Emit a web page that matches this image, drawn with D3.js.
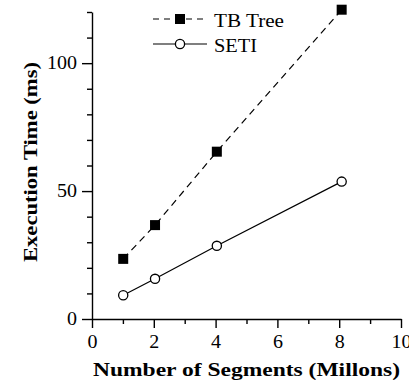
<!DOCTYPE html>
<html>
<head>
<meta charset="utf-8">
<script src="https://cdn.jsdelivr.net/npm/d3@7"></script>
<style>
  html, body { margin: 0; padding: 0; background: #fff; }
  svg { display: block; }
  text { font-family: "Liberation Serif", "Times New Roman", serif; fill: #000; }
</style>
</head>
<body>
<svg id="chart" width="409" height="387"></svg>
<script>
// Segment counts (millions) and execution times (ms)
const segments = [1.01, 2.04, 4.04, 8.08];
const tbTree = [23.5, 36.7, 65.4, 120.9];
const seti = [9.3, 15.7, 28.6, 53.7];
const seriesNames = ["TB Tree", "SETI"];
const xMajorTicks = [0, 2, 4, 6, 8, 10];
const xMinorTicks = [1, 3, 5, 7, 9];
const yMajorTicks = [0, 50, 100];
const yMinorTicks = [10, 20, 30, 40, 60, 70, 80, 90, 110, 120];

const svg = d3.select("#chart");
const plotLeft = 92, plotRight = 401, plotTop = 12, plotBottom = 319;

const x = d3.scaleLinear().domain([0, 10]).range([plotLeft, plotRight]);
const y = d3.scaleLinear().domain([0, 120]).range([plotBottom, plotTop]);

// The figure's typeface is a wide serif; stretch glyphs to that width
function widen(sel, perChar) {
  sel.attr("textLength", function () { return this.textContent.length * perChar; })
     .attr("lengthAdjust", "spacingAndGlyphs");
}

// Y axis: major ticks with labels, minor ticks without
svg.append("g").attr("transform", `translate(${plotLeft},0)`)
  .call(d3.axisLeft(y).tickValues(yMajorTicks).tickSize(10).tickSizeOuter(0).tickPadding(5).tickFormat(d3.format("d")));
svg.append("g").attr("transform", `translate(${plotLeft},0)`)
  .call(d3.axisLeft(y).tickValues(yMinorTicks).tickSize(5).tickSizeOuter(0).tickFormat(""))
  .select(".domain").remove();

// X axis
svg.append("g").attr("transform", `translate(0,${plotBottom})`)
  .call(d3.axisBottom(x).tickValues(xMajorTicks).tickSize(9).tickSizeOuter(0).tickPadding(7).tickFormat(d3.format("d")));
svg.append("g").attr("transform", `translate(0,${plotBottom})`)
  .call(d3.axisBottom(x).tickValues(xMinorTicks).tickSize(5).tickSizeOuter(0).tickFormat(""))
  .select(".domain").remove();

svg.selectAll(".domain, .tick line").attr("stroke", "#000").attr("stroke-width", 1.4);
svg.selectAll(".tick text")
  .style("font-family", '"Liberation Serif", serif')
  .style("font-size", "18px")
  .attr("fill", "#000")
  .call(widen, 10);

// Axis titles
svg.append("text")
  .attr("x", (plotLeft + plotRight) / 2).attr("y", 376)
  .attr("text-anchor", "middle")
  .attr("textLength", 307).attr("lengthAdjust", "spacingAndGlyphs")
  .style("font-size", "19px").style("font-weight", "bold")
  .text("Number of Segments (Millons)");

svg.append("text")
  .attr("transform", `translate(37,162) rotate(-90)`)
  .attr("text-anchor", "middle")
  .attr("textLength", 200).attr("lengthAdjust", "spacingAndGlyphs")
  .style("font-size", "19px").style("font-weight", "bold")
  .text("Execution Time (ms)");

// Lines
const line = d3.line().x((d, i) => x(segments[i])).y(d => y(d));

svg.append("path").datum(tbTree)
  .attr("d", line).attr("fill", "none").attr("stroke", "#000")
  .attr("stroke-width", 1.2).attr("stroke-dasharray", "7,5");
svg.append("path").datum(seti)
  .attr("d", line).attr("fill", "none").attr("stroke", "#000")
  .attr("stroke-width", 1.2);

// Markers
const sq = 10;
svg.append("g").selectAll("rect").data(tbTree).join("rect")
  .attr("x", (d, i) => x(segments[i]) - sq / 2)
  .attr("y", d => y(d) - sq / 2)
  .attr("width", sq).attr("height", sq).attr("fill", "#000");

svg.append("g").selectAll("circle").data(seti).join("circle")
  .attr("cx", (d, i) => x(segments[i]))
  .attr("cy", d => y(d))
  .attr("r", 4.6).attr("fill", "#fff").attr("stroke", "#000").attr("stroke-width", 1.3);

// Legend
const legend = svg.append("g");
const lx0 = 153, lx1 = 207, lmid = 180;
const rows = [19, 44];
const legendWidths = [70, 43];

legend.append("line").attr("x1", lx0).attr("x2", lx1).attr("y1", rows[0]).attr("y2", rows[0])
  .attr("stroke", "#000").attr("stroke-width", 1.2).attr("stroke-dasharray", "6,5");
legend.append("rect").attr("x", lmid - sq / 2).attr("y", rows[0] - sq / 2)
  .attr("width", sq).attr("height", sq).attr("fill", "#000");
legend.append("line").attr("x1", lx0).attr("x2", lx1).attr("y1", rows[1]).attr("y2", rows[1])
  .attr("stroke", "#000").attr("stroke-width", 1.2);
legend.append("circle").attr("cx", lmid).attr("cy", rows[1]).attr("r", 4.6)
  .attr("fill", "#fff").attr("stroke", "#000").attr("stroke-width", 1.3);

legend.selectAll("text").data(seriesNames).join("text")
  .attr("x", 214).attr("y", (d, i) => rows[i] + 7.5)
  .attr("textLength", (d, i) => legendWidths[i]).attr("lengthAdjust", "spacingAndGlyphs")
  .style("font-size", "19px")
  .text(d => d);
</script>
</body>
</html>
